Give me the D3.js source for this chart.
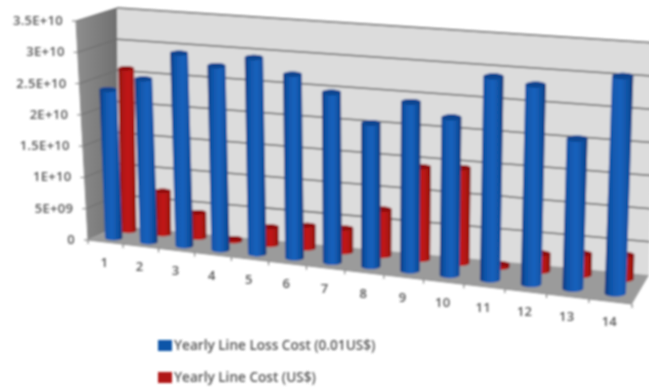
<!DOCTYPE html>
<html>
<head>
<meta charset="utf-8">
<title>Yearly line cost</title>
<script src="https://d3js.org/d3.v7.min.js"></script>
<style>
    html, body { margin: 0; background: #fff; }
    svg { display: block; }
    text { font-family: "Open Sans", sans-serif; fill: #555; }
    .tick-label { font-size: 13px; font-weight: 600; letter-spacing: 0.3px; }
    .legend-label { font-size: 13.6px; font-weight: 600; }
</style>
</head>
<body>
<svg width="649" height="388"></svg>
<script>
// values
var categories = ["1","2","3","4","5","6","7","8","9","10","11","12","13","14"];
var lossCost = [2.37e10,2.59e10,3.05e10,2.9e10,3.08e10,2.87e10,2.64e10,2.22e10,2.6e10,2.42e10,3.1e10,3.03e10,2.27e10,3.27e10];
var lineCost = [2.6e10,0.69e10,0.4e10,0.04e10,0.28e10,0.36e10,0.37e10,0.72e10,1.43e10,1.47e10,0.05e10,0.27e10,0.33e10,0.37e10];
var valueTicks = [0,5e9,1e10,1.5e10,2e10,2.5e10,3e10,3.5e10];
var valueLabels = ["0","5E+09","1E+10","1.5E+10","2E+10","2.5E+10","3E+10","3.5E+10"];
var seriesNames = ["Yearly Line Loss Cost (0.01US$)","Yearly Line Cost (US$)"];

var svg = d3.select("svg");

// corners of the 3d box on screen
var box = {
    frontLeftBottom: [88,240], frontLeftTop: [76,21],
    frontRightBottom: [632,304], frontRightTop: [642,70],
    backLeftBottom: [118,226], backLeftTop: [117,8],
    backRightBottom: [649,275], backRightTop: [654,43]
};

var x = d3.scaleBand().domain(categories).range([0,1]);
var y = d3.scaleLinear().domain([0,3.5e10]).range([0,1]);

// perspective along the category axis
var k = 1.118;
function warp(t) { return t / (t + (1 - t) * k); }

function mix(a, b, t) { return [a[0] + (b[0] - a[0]) * t, a[1] + (b[1] - a[1]) * t]; }

// t = along categories, d = depth (0 front, 1 back), v = height
function project(t, d, v) {
    var p = warp(t);
    var front = mix(mix(box.frontLeftBottom, box.frontRightBottom, p), mix(box.frontLeftTop, box.frontRightTop, p), v);
    var back = mix(mix(box.backLeftBottom, box.backRightBottom, p), mix(box.backLeftTop, box.backRightTop, p), v);
    return mix(front, back, d);
}

function poly(pts) { return "M" + pts.map(function(p) { return p.join(","); }).join("L") + "Z"; }

var defs = svg.append("defs");
defs.append("filter").attr("id", "soft")
    .attr("filterUnits", "userSpaceOnUse")
    .attr("x", 0).attr("y", 0).attr("width", 649).attr("height", 388)
    .append("feGaussianBlur").attr("stdDeviation", 0.9);

function gradient(id, stops) {
    var g = defs.append("linearGradient").attr("id", id);
    stops.forEach(function(s) {
        g.append("stop").attr("offset", s[0]).attr("stop-color", s[1]);
    });
}
gradient("blueBar", [[0,"#0a3478"],[0.2,"#1054a8"],[0.55,"#1662bd"],[0.85,"#0f4f9f"],[1,"#09306c"]]);
gradient("redBar", [[0,"#7e0d0d"],[0.25,"#b01513"],[0.55,"#c21a16"],[0.85,"#a41210"],[1,"#730b0b"]]);
gradient("sideWall", [[0,"#8e8e8e"],[1,"#6f6f6f"]]);

var root = svg.append("g").attr("filter", "url(#soft)");

// walls and floor
root.append("path")
    .attr("d", poly([box.backLeftBottom, box.backLeftTop, box.backRightTop, box.backRightBottom]))
    .attr("fill", "#dcdcdc");
root.append("path")
    .attr("d", poly([box.frontLeftBottom, box.frontLeftTop, box.backLeftTop, box.backLeftBottom]))
    .attr("fill", "url(#sideWall)");
root.append("path")
    .attr("d", poly([box.frontLeftBottom, box.frontRightBottom, box.backRightBottom, box.backLeftBottom]))
    .attr("fill", "#9b9b9b");

// gridlines
valueTicks.forEach(function(v) {
    if (v > 0) {
        root.append("path")
            .attr("d", "M" + project(0,1,y(v)).join(",") + "L" + project(1,1,y(v)).join(","))
            .attr("stroke", "#5c5c5c").attr("stroke-width", 1.5).attr("fill", "none");
        root.append("path")
            .attr("d", "M" + project(0,0,y(v)).join(",") + "L" + project(0,1,y(v)).join(","))
            .attr("stroke", "#6a6a6a").attr("stroke-width", 1).attr("fill", "none");
    }
    var p = project(0,0,y(v));
    root.append("path")
        .attr("d", "M" + (p[0] - 4) + "," + p[1] + "L" + p[0] + "," + p[1])
        .attr("stroke", "#777").attr("fill", "none");
});

// axis lines
root.append("path")
    .attr("d", "M" + box.frontLeftTop.join(",") + "L" + box.frontLeftBottom.join(",") + "L" + box.frontRightBottom.join(","))
    .attr("stroke", "#8c8c8c").attr("fill", "none");

// category ticks
categories.concat(["end"]).forEach(function(c, i) {
    var t = i == categories.length ? 1 : x(c);
    var p = project(t,0,0);
    root.append("path")
        .attr("d", "M" + p.join(",") + "L" + p[0] + "," + (p[1] + 4))
        .attr("stroke", "#666").attr("fill", "none");
});

function cylinder(g, cat, value, depth, widthShare, fill, capFill) {
    var t = x(cat) + x.bandwidth() / 2;
    var b = project(t, depth, 0);
    var u = project(t, depth, y(value));
    var w = project(x(cat) + x.bandwidth(), depth, 0)[0] - project(x(cat), depth, 0)[0];
    var rx = w * widthShare / 2, ry = rx * 0.3;
    g.append("path")
        .attr("d", "M" + (b[0] - rx) + "," + b[1] +
            "L" + (u[0] - rx) + "," + u[1] +
            "A" + rx + "," + ry + " 0 0 1 " + (u[0] + rx) + "," + u[1] +
            "L" + (b[0] + rx) + "," + b[1] +
            "A" + rx + "," + ry + " 0 0 1 " + (b[0] - rx) + "," + b[1] + "Z")
        .attr("fill", fill);
    g.append("ellipse")
        .attr("cx", u[0]).attr("cy", u[1]).attr("rx", rx).attr("ry", ry)
        .attr("fill", capFill);
}

// red row stands behind the blue one
var bars = root.append("g");
categories.forEach(function(c, i) {
    cylinder(bars, c, lineCost[i], 0.78, 0.46, "url(#redBar)", "#8f0f0e");
});
categories.forEach(function(c, i) {
    cylinder(bars, c, lossCost[i], 0.28, 0.5, "url(#blueBar)", "#0b4590");
});

// labels
valueTicks.forEach(function(v, i) {
    var p = project(0,0,y(v));
    root.append("text").attr("class", "tick-label")
        .attr("x", p[0] - 13).attr("y", p[1] + 4)
        .attr("text-anchor", "end")
        .text(valueLabels[i]);
});
categories.forEach(function(c) {
    var p = project(x(c) + x.bandwidth() / 2, 0, 0);
    root.append("text").attr("class", "tick-label")
        .attr("x", p[0] - 1).attr("y", p[1] + 25)
        .attr("text-anchor", "middle")
        .text(c);
});

// legend
var legend = root.append("g");
seriesNames.forEach(function(name, i) {
    var top = 340 + i * 32;
    legend.append("rect")
        .attr("x", 158).attr("y", top).attr("width", 14).attr("height", 11)
        .attr("fill", i == 0 ? "#1054a8" : "#b01513");
    legend.append("text").attr("class", "legend-label")
        .attr("x", 174).attr("y", top + 10)
        .text(name);
});
</script>
</body>
</html>
